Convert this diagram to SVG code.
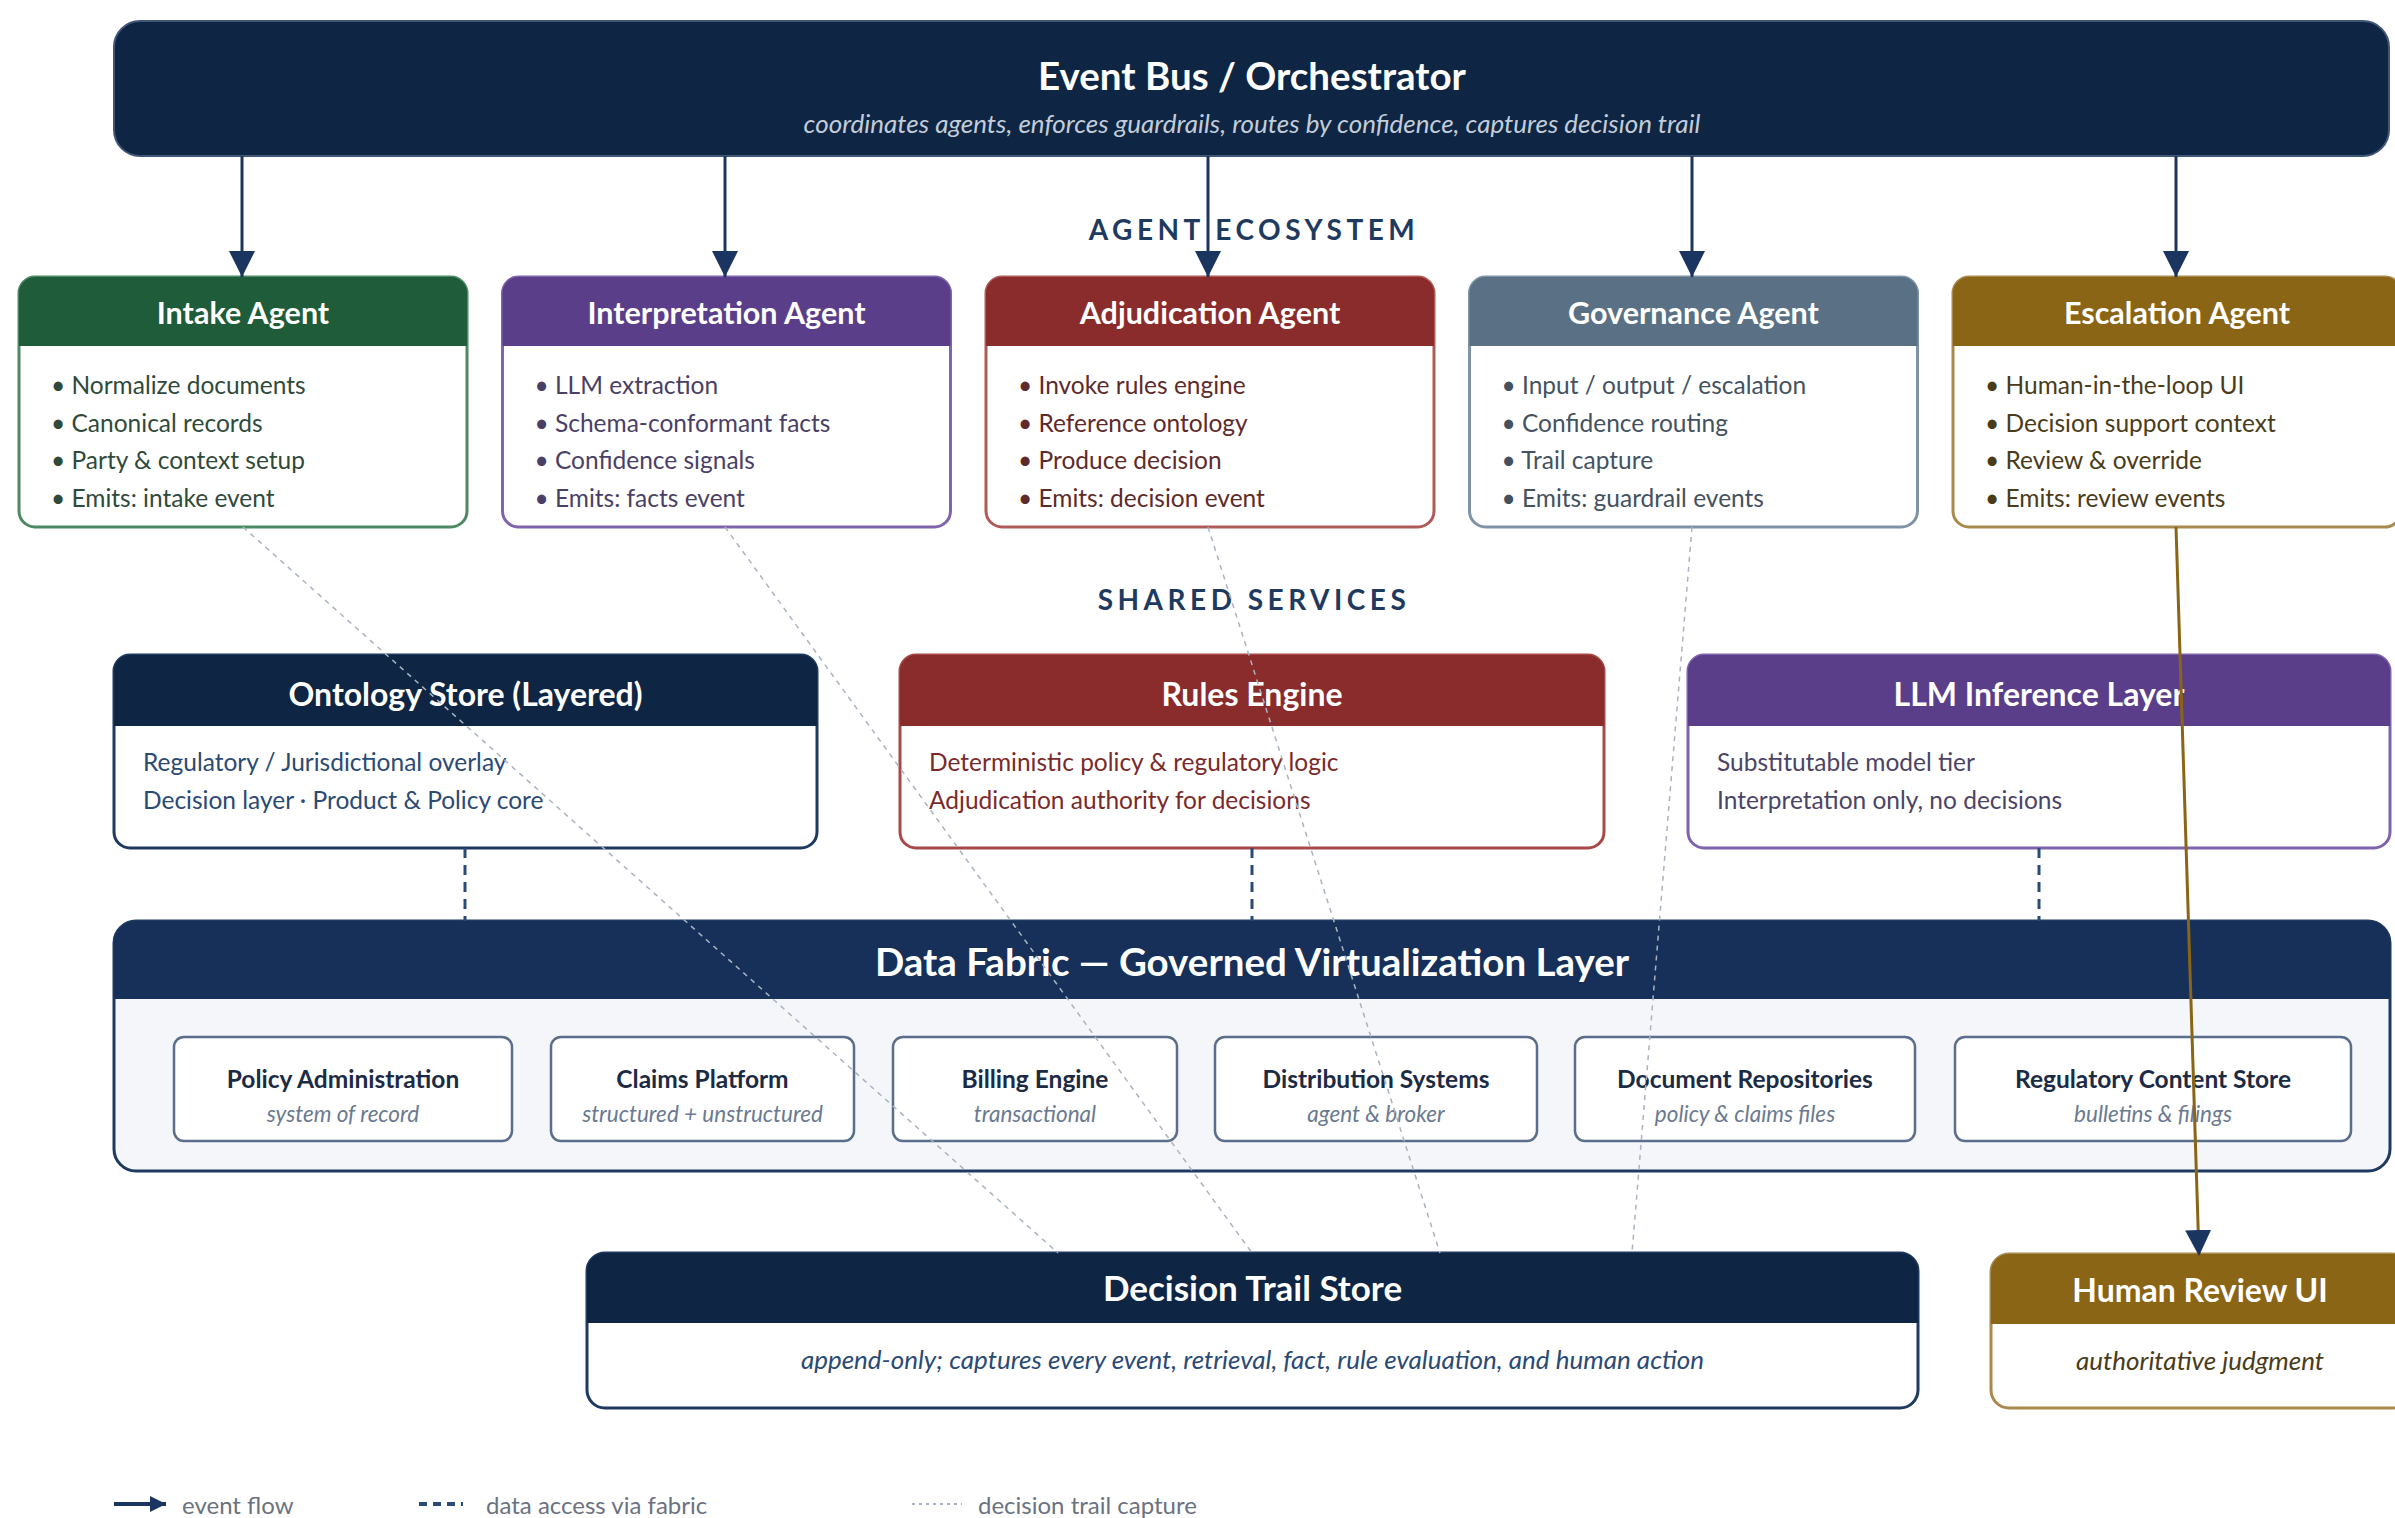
<svg xmlns="http://www.w3.org/2000/svg" width="2395" height="1518" viewBox="0 0 2395 1518">
<defs>
<marker id="ah" markerUnits="userSpaceOnUse" markerWidth="28" markerHeight="28" refX="26" refY="13" orient="auto">
<path d="M0,0 L26,13 L0,26 Z" fill="#1b3561"/>
</marker>
<marker id="ahs" markerUnits="userSpaceOnUse" markerWidth="20" markerHeight="20" refX="16" refY="8" orient="auto">
<path d="M0,0 L16,8 L0,16 Z" fill="#1b3561"/>
</marker>
<style>
text{font-family:Lato,"Liberation Sans",sans-serif;}
.ttl{font-weight:700;fill:#ffffff;text-anchor:middle;dominant-baseline:central;}
.big{font-size:38.5px;}
.agt{font-size:30.5px;}
.svc{font-size:32px;}
.sub{font-style:italic;font-size:26px;text-anchor:middle;dominant-baseline:central;}
.bl{font-size:24.5px;dominant-baseline:central;}
.sec{font-size:28px;font-weight:700;fill:#1f3a5f;letter-spacing:4.5px;text-anchor:middle;dominant-baseline:central;}
.srcT{font-size:24.5px;font-weight:700;fill:#1c2b45;text-anchor:middle;dominant-baseline:central;}
.srcS{font-size:22.5px;font-style:italic;fill:#6b7a90;text-anchor:middle;dominant-baseline:central;}
.src{fill:#ffffff;stroke:#5a6e8c;stroke-width:2.5;}
.lg{font-size:24px;fill:#6b7280;dominant-baseline:central;}
.flow{stroke:#1b3561;stroke-width:3;fill:none;}
.data{stroke:#2a4a78;stroke-width:3;stroke-dasharray:10 7;fill:none;}
.trail{stroke:#a9b3c2;stroke-width:1.5;stroke-dasharray:5 5;fill:none;}
</style>
</defs>
<rect width="2395" height="1518" fill="#ffffff"/>

<g id="event-bus">
<rect x="114" y="21" width="2275" height="135" rx="26" fill="#0e2643" stroke="#40577a" stroke-width="2"/>
<text class="ttl big" x="1252" y="75">Event Bus / Orchestrator</text>
<text class="sub" x="1252" y="123" fill="#c3ccd9">coordinates agents, enforces guardrails, routes by confidence, captures decision trail</text>
</g>

<text class="sec" x="1254" y="229">AGENT ECOSYSTEM</text>

<g id="intake-agent" transform="translate(19,277)">
<rect width="448" height="250" rx="16" fill="#ffffff" stroke="#4d8a64" stroke-width="3"/>
<path d="M16,0 H432 A16,16 0 0 1 448,16 V69 H0 V16 A16,16 0 0 1 16,0 Z" fill="#1f5c3a"/>
<text class="ttl agt" x="224" y="35">Intake Agent</text>
<g fill="#2f4a3a">
<text class="bl" x="32" y="107">• Normalize documents</text>
<text class="bl" x="32" y="145">• Canonical records</text>
<text class="bl" x="32" y="182">• Party &amp; context setup</text>
<text class="bl" x="32" y="220">• Emits: intake event</text>
</g>
</g>

<g id="interpretation-agent" transform="translate(502.5,277)">
<rect width="448" height="250" rx="16" fill="#ffffff" stroke="#7f64ad" stroke-width="3"/>
<path d="M16,0 H432 A16,16 0 0 1 448,16 V69 H0 V16 A16,16 0 0 1 16,0 Z" fill="#5a3e8a"/>
<text class="ttl agt" x="224" y="35">Interpretation Agent</text>
<g fill="#4a3f66">
<text class="bl" x="32" y="107">• LLM extraction</text>
<text class="bl" x="32" y="145">• Schema-conformant facts</text>
<text class="bl" x="32" y="182">• Confidence signals</text>
<text class="bl" x="32" y="220">• Emits: facts event</text>
</g>
</g>

<g id="adjudication-agent" transform="translate(986,277)">
<rect width="448" height="250" rx="16" fill="#ffffff" stroke="#b05a5a" stroke-width="3"/>
<path d="M16,0 H432 A16,16 0 0 1 448,16 V69 H0 V16 A16,16 0 0 1 16,0 Z" fill="#8b2c2c"/>
<text class="ttl agt" x="224" y="35">Adjudication Agent</text>
<g fill="#5e2a2a">
<text class="bl" x="32" y="107">• Invoke rules engine</text>
<text class="bl" x="32" y="145">• Reference ontology</text>
<text class="bl" x="32" y="182">• Produce decision</text>
<text class="bl" x="32" y="220">• Emits: decision event</text>
</g>
</g>

<g id="governance-agent" transform="translate(1469.5,277)">
<rect width="448" height="250" rx="16" fill="#ffffff" stroke="#7f93a6" stroke-width="3"/>
<path d="M16,0 H432 A16,16 0 0 1 448,16 V69 H0 V16 A16,16 0 0 1 16,0 Z" fill="#5a7185"/>
<text class="ttl agt" x="224" y="35">Governance Agent</text>
<g fill="#44525f">
<text class="bl" x="32" y="107">• Input / output / escalation</text>
<text class="bl" x="32" y="145">• Confidence routing</text>
<text class="bl" x="32" y="182">• Trail capture</text>
<text class="bl" x="32" y="220">• Emits: guardrail events</text>
</g>
</g>

<g id="escalation-agent" transform="translate(1953,277)">
<rect width="448" height="250" rx="16" fill="#ffffff" stroke="#a88a4e" stroke-width="3"/>
<path d="M16,0 H432 A16,16 0 0 1 448,16 V69 H0 V16 A16,16 0 0 1 16,0 Z" fill="#8a6516"/>
<text class="ttl agt" x="224" y="35">Escalation Agent</text>
<g fill="#4a3c18">
<text class="bl" x="32" y="107">• Human-in-the-loop UI</text>
<text class="bl" x="32" y="145">• Decision support context</text>
<text class="bl" x="32" y="182">• Review &amp; override</text>
<text class="bl" x="32" y="220">• Emits: review events</text>
</g>
</g>

<text class="sec" x="1254" y="599">SHARED SERVICES</text>

<g id="ontology-store" transform="translate(114,655)">
<rect width="703" height="193" rx="16" fill="#ffffff" stroke="#1e3a60" stroke-width="3"/>
<path d="M16,0 H687 A16,16 0 0 1 703,16 V71 H0 V16 A16,16 0 0 1 16,0 Z" fill="#0e2643"/>
<text class="ttl svc" x="351.5" y="38">Ontology Store (Layered)</text>
<text class="bl" x="29" y="106" fill="#2b4a74">Regulatory / Jurisdictional overlay</text>
<text class="bl" x="29" y="144" fill="#2b4a74">Decision layer · Product &amp; Policy core</text>
</g>

<g id="rules-engine" transform="translate(900,655)">
<rect width="704" height="193" rx="16" fill="#ffffff" stroke="#a84848" stroke-width="3"/>
<path d="M16,0 H688 A16,16 0 0 1 704,16 V71 H0 V16 A16,16 0 0 1 16,0 Z" fill="#8b2c2c"/>
<text class="ttl svc" x="352" y="38">Rules Engine</text>
<text class="bl" x="29" y="106" fill="#7b2a2a">Deterministic policy &amp; regulatory logic</text>
<text class="bl" x="29" y="144" fill="#7b2a2a">Adjudication authority for decisions</text>
</g>

<g id="llm-inference" transform="translate(1688,655)">
<rect width="702" height="193" rx="16" fill="#ffffff" stroke="#7f64ad" stroke-width="3"/>
<path d="M16,0 H686 A16,16 0 0 1 702,16 V71 H0 V16 A16,16 0 0 1 16,0 Z" fill="#5a3e8a"/>
<text class="ttl svc" x="351" y="38">LLM Inference Layer</text>
<text class="bl" x="29" y="106" fill="#4b4466">Substitutable model tier</text>
<text class="bl" x="29" y="144" fill="#4b4466">Interpretation only, no decisions</text>
</g>

<g id="data-fabric">
<rect x="114" y="921" width="2276" height="250" rx="22" fill="#f4f6fa" stroke="#1e3a60" stroke-width="3"/>
<path d="M136,921 H2368 A22,22 0 0 1 2390,943 V999 H114 V943 A22,22 0 0 1 136,921 Z" fill="#16305a"/>
<text class="ttl big" x="1252" y="961">Data Fabric — Governed Virtualization Layer</text>
</g>

<g id="policy-administration">
<rect class="src" x="174" y="1037" width="338" height="104" rx="10"/>
<text class="srcT" x="343" y="1078">Policy Administration</text>
<text class="srcS" x="343" y="1113">system of record</text>
</g>
<g id="claims-platform">
<rect class="src" x="551" y="1037" width="303" height="104" rx="10"/>
<text class="srcT" x="702.5" y="1078">Claims Platform</text>
<text class="srcS" x="702.5" y="1113">structured + unstructured</text>
</g>
<g id="billing-engine">
<rect class="src" x="893" y="1037" width="284" height="104" rx="10"/>
<text class="srcT" x="1035" y="1078">Billing Engine</text>
<text class="srcS" x="1035" y="1113">transactional</text>
</g>
<g id="distribution-systems">
<rect class="src" x="1215" y="1037" width="322" height="104" rx="10"/>
<text class="srcT" x="1376" y="1078">Distribution Systems</text>
<text class="srcS" x="1376" y="1113">agent &amp; broker</text>
</g>
<g id="document-repositories">
<rect class="src" x="1575" y="1037" width="340" height="104" rx="10"/>
<text class="srcT" x="1745" y="1078">Document Repositories</text>
<text class="srcS" x="1745" y="1113">policy &amp; claims files</text>
</g>
<g id="regulatory-content-store">
<rect class="src" x="1955" y="1037" width="396" height="104" rx="10"/>
<text class="srcT" x="2153" y="1078">Regulatory Content Store</text>
<text class="srcS" x="2153" y="1113">bulletins &amp; filings</text>
</g>

<g id="decision-trail-store" transform="translate(587,1253)">
<rect width="1331" height="155" rx="18" fill="#ffffff" stroke="#1e3a60" stroke-width="3"/>
<path d="M18,0 H1313 A18,18 0 0 1 1331,18 V70 H0 V18 A18,18 0 0 1 18,0 Z" fill="#0e2643"/>
<text class="ttl" x="665.5" y="34" font-size="35px">Decision Trail Store</text>
<text class="sub" x="665.5" y="106" fill="#2b4a74">append-only; captures every event, retrieval, fact, rule evaluation, and human action</text>
</g>

<g id="human-review-ui" transform="translate(1991,1254)">
<rect width="419" height="154" rx="18" fill="#ffffff" stroke="#a88a4e" stroke-width="3"/>
<path d="M18,0 H401 A18,18 0 0 1 419,18 V70 H0 V18 A18,18 0 0 1 18,0 Z" fill="#8a6516"/>
<text class="ttl" x="209" y="35" font-size="32px">Human Review UI</text>
<text class="sub" x="209" y="106" fill="#4a3c18" font-size="22.5px">authoritative judgment</text>
</g>

<g id="connectors">
<line class="flow" x1="242" y1="156" x2="242" y2="277" marker-end="url(#ah)"/>
<line class="flow" x1="725" y1="156" x2="725" y2="277" marker-end="url(#ah)"/>
<line class="flow" x1="1208" y1="156" x2="1208" y2="277" marker-end="url(#ah)"/>
<line class="flow" x1="1692" y1="156" x2="1692" y2="277" marker-end="url(#ah)"/>
<line class="flow" x1="2176" y1="156" x2="2176" y2="277" marker-end="url(#ah)"/>
<line class="data" x1="465" y1="848" x2="465" y2="921"/>
<line class="data" x1="1252" y1="848" x2="1252" y2="921"/>
<line class="data" x1="2039" y1="848" x2="2039" y2="921"/>
<line class="trail" x1="243" y1="527" x2="1058" y2="1253"/>
<line class="trail" x1="725" y1="527" x2="1252" y2="1253"/>
<line class="trail" x1="1208" y1="527" x2="1440" y2="1253"/>
<line class="trail" x1="1692" y1="527" x2="1632" y2="1253"/>
<line x1="2176" y1="527" x2="2199" y2="1256" stroke="#8a6516" stroke-width="3" marker-end="url(#ah)"/>
</g>

<g id="legend">
<line x1="114" y1="1504" x2="166" y2="1504" stroke="#1b3561" stroke-width="4" marker-end="url(#ahs)"/>
<text class="lg" x="182" y="1504">event flow</text>
<line x1="419" y1="1504" x2="463" y2="1504" stroke="#2a4a78" stroke-width="4" stroke-dasharray="8 6"/>
<text class="lg" x="486" y="1504">data access via fabric</text>
<line x1="912" y1="1504" x2="962" y2="1504" stroke="#a9b3c2" stroke-width="2" stroke-dasharray="3 4"/>
<text class="lg" x="978" y="1504">decision trail capture</text>
</g>
</svg>
